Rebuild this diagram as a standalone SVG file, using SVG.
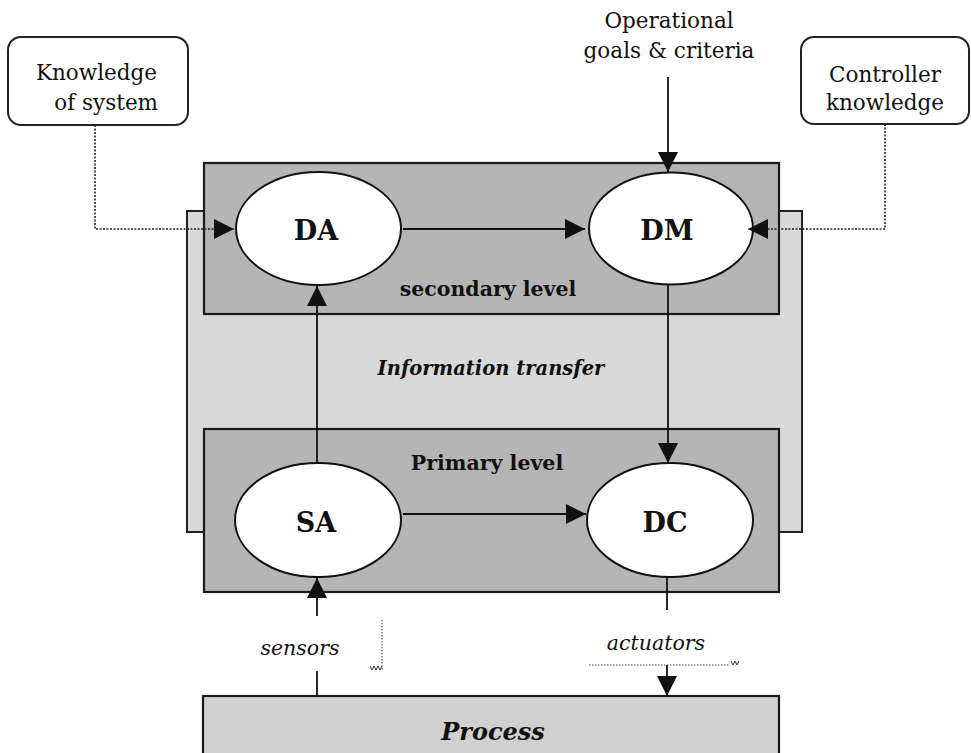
<svg xmlns="http://www.w3.org/2000/svg" width="971" height="753" viewBox="0 0 971 753">
<style>
.t{font-family:"DejaVu Serif","Liberation Serif",serif;fill:#111}
.lbl{font-size:21.5px}
.bl{font-size:20.5px;font-weight:bold}
.it{font-size:20.5px;font-style:italic}
.node{font-size:27px;font-weight:bold}
.panel{fill:#d9d9d9;stroke:#222;stroke-width:2}
.level{fill:#b5b5b5;stroke:#1a1a1a;stroke-width:2.2}
.proc{fill:#d0d0d0;stroke:#1a1a1a;stroke-width:2.2}
.ell{fill:#fff;stroke:#111;stroke-width:2}
.kbox{fill:#fff;stroke:#222;stroke-width:2}
.ln{fill:none;stroke:#111;stroke-width:1.8}
.dot{fill:none;stroke:#222;stroke-width:1.6;stroke-dasharray:2 1.5}
.thin{fill:none;stroke:#444;stroke-width:1;stroke-dasharray:1.5 1.5}
</style>
<defs>
<marker id="ah" viewBox="0 0 20 20" refX="20" refY="10" markerWidth="21" markerHeight="20" markerUnits="userSpaceOnUse" orient="auto">
<path d="M0,0 L20,10 L0,20 z" fill="#111"/>
</marker>
</defs>
<rect width="971" height="753" fill="#fff"/>

<g id="info-transfer">
<rect class="panel" x="187" y="211" width="615" height="321"/>
<text class="t" font-size="19.5" font-weight="bold" font-style="italic" x="491" y="375" text-anchor="middle">Information transfer</text>
</g>

<g id="secondary-level">
<rect class="level" x="204" y="163" width="575" height="151"/>
<text class="t bl" x="488" y="296" text-anchor="middle">secondary level</text>
</g>

<g id="primary-level">
<rect class="level" x="204" y="429" width="575" height="163"/>
<text class="t bl" x="487" y="470" text-anchor="middle">Primary level</text>
</g>

<g id="process">
<rect class="proc" x="203" y="696" width="576" height="70"/>
<text class="t" font-weight="bold" font-style="italic" font-size="24" x="493" y="740" text-anchor="middle">Process</text>
</g>

<g id="knowledge-of-system">
<rect class="kbox" x="8" y="37" width="180" height="88" rx="13"/>
<text class="t lbl" x="157" y="80" text-anchor="end">Knowledge</text>
<text class="t lbl" x="158" y="110" text-anchor="end">of system</text>
</g>

<g id="controller-knowledge">
<rect class="kbox" x="801" y="37" width="168" height="87" rx="13"/>
<text class="t lbl" x="885" y="82" text-anchor="middle">Controller</text>
<text class="t lbl" x="885" y="110" text-anchor="middle">knowledge</text>
</g>

<g id="operational-goals">
<text class="t lbl" x="669" y="28" text-anchor="middle">Operational</text>
<text class="t lbl" x="669" y="58" text-anchor="middle">goals &amp; criteria</text>
</g>

<g id="DA">
<ellipse class="ell" cx="318.5" cy="228.5" rx="82.5" ry="56.5"/>
<text class="t node" x="316" y="240" text-anchor="middle">DA</text>
</g>
<g id="DM">
<ellipse class="ell" cx="671" cy="228.5" rx="82" ry="56"/>
<text class="t node" x="667" y="240" text-anchor="middle">DM</text>
</g>
<g id="SA">
<ellipse class="ell" cx="318" cy="520" rx="83" ry="57"/>
<text class="t node" x="316" y="532" text-anchor="middle">SA</text>
</g>
<g id="DC">
<ellipse class="ell" cx="670" cy="520" rx="83" ry="57"/>
<text class="t node" x="665" y="532" text-anchor="middle">DC</text>
</g>

<g id="sensors-label">
<text class="t it" x="300" y="655" text-anchor="middle">sensors</text>
</g>
<g id="actuators-label">
<text class="t it" x="656" y="650" text-anchor="middle">actuators</text>
</g>

<g id="connectors">
<line class="ln" x1="403" y1="229" x2="585" y2="229" marker-end="url(#ah)"/>
<line class="ln" x1="403" y1="514" x2="586" y2="514" marker-end="url(#ah)"/>
<line class="ln" x1="317" y1="463" x2="317" y2="286" marker-end="url(#ah)"/>
<line class="ln" x1="668" y1="284" x2="668" y2="463" marker-end="url(#ah)"/>
<line class="ln" x1="668" y1="77" x2="668" y2="172" marker-end="url(#ah)"/>
<line class="ln" x1="317" y1="616" x2="317" y2="578" marker-end="url(#ah)"/>
<line class="ln" x1="317" y1="671" x2="317" y2="696"/>
<line class="ln" x1="667" y1="577" x2="667" y2="610"/>
<line class="ln" x1="667" y1="665" x2="667" y2="696" marker-end="url(#ah)"/>
<path class="dot" d="M95,125 V229 H234" marker-end="url(#ah)"/>
<path class="dot" d="M885,124 V229 H748" marker-end="url(#ah)"/>
<path class="thin" d="M382,620 V670"/>
<path fill="none" stroke="#333" stroke-width="1" d="M370,666 L372,670 L374,666 L376,670 L378,666 L380,670 L382,666"/>
<path class="thin" d="M589,665 H730"/>
<path fill="none" stroke="#333" stroke-width="1" d="M731,661 L733,665 L735,661 L737,665 L739,661"/>
</g>
</svg>
